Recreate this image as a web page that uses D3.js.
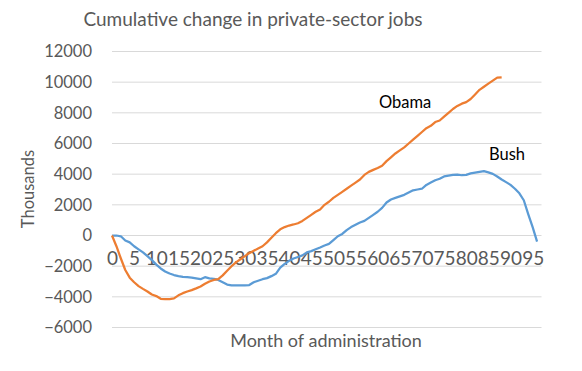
<!DOCTYPE html>
<html>
<head>
<meta charset="utf-8">
<script src="https://cdn.jsdelivr.net/npm/d3@7"></script>
<style>
  body { margin: 0; background: #fff; }
  text { font-family: Lato, "Open Sans", sans-serif; fill: #595959; }
</style>
</head>
<body>
<div id="chart"></div>
<script>
// monthly cumulative change, thousands
var bush = [
  0, 0, -50, -330, -450, -700, -900, -1100, -1350, -1600,
  -1900, -2150, -2350, -2480, -2580, -2650, -2700, -2720, -2750, -2800,
  -2850, -2720, -2800, -2830, -2900, -3050, -3200, -3250, -3250, -3250,
  -3250, -3230, -3050, -2950, -2850, -2780, -2650, -2500, -2100, -1850,
  -1650, -1500, -1400, -1300, -1100, -1020, -900, -780, -650, -550,
  -300, -50, 100, 350, 550, 700, 850, 950, 1150, 1350,
  1550, 1800, 2150, 2350, 2450, 2550, 2650, 2800, 2950, 3000,
  3050, 3300, 3450, 3600, 3700, 3850, 3900, 3950, 3970, 3930,
  3950, 4050, 4100, 4150, 4200, 4120, 4020, 3850, 3650, 3480,
  3300, 3050, 2750, 2300, 1400, 550, -400
];
var obama = [
  0, -700, -1500, -2250, -2750, -3050, -3300, -3480, -3650, -3850,
  -3950, -4130, -4150, -4150, -4100, -3900, -3760, -3650, -3560, -3450,
  -3330, -3150, -3000, -2900, -2850, -2600, -2300, -2000, -1750, -1550,
  -1350, -1150, -1000, -850, -700, -450, -150, 150, 400, 550,
  650, 720, 800, 950, 1150, 1350, 1550, 1700, 2000, 2200,
  2450, 2650, 2850, 3050, 3250, 3450, 3650, 3950, 4150, 4280,
  4400, 4550, 4850, 5100, 5350, 5550, 5750, 6000, 6250, 6500,
  6750, 7000, 7150, 7400, 7500, 7750, 8000, 8250, 8450, 8600,
  8700, 8900, 9200, 9500, 9700, 9900, 10100, 10300, 10320
];
var yTicks = [-6000, -4000, -2000, 0, 2000, 4000, 6000, 8000, 10000, 12000];
var xTicks = d3.range(0, 96, 5);

var W = 582, H = 371;
var plotLeft = 112, plotRight = 541.5, plotTop = 51.5, plotBottom = 327.5;

var svg = d3.select("#chart").append("svg")
  .attr("width", W).attr("height", H);

var x = d3.scaleLinear().domain([0, 97]).range([plotLeft, plotRight]);
var y = d3.scaleLinear().domain([-6000, 12000]).range([plotBottom, plotTop]);

// gridlines
svg.append("g").selectAll("line")
  .data(yTicks).enter().append("line")
  .attr("x1", plotLeft).attr("x2", plotRight)
  .attr("y1", d => y(d)).attr("y2", d => y(d))
  .attr("stroke", "#d9d9d9").attr("stroke-width", 1);

// y labels
var yAxis = d3.axisLeft(y).tickValues(yTicks).tickSize(0).tickPadding(0)
  .tickFormat(d3.format("d"));
var gy = svg.append("g").attr("transform", "translate(92,0)").call(yAxis);
gy.select(".domain").remove();
gy.selectAll("text").style("font-size", "16.5px").style("font-family", "Lato").attr("fill", "#595959");

// x labels (sit next to the zero line)
var xAxis = d3.axisBottom(x).tickValues(xTicks).tickSize(0).tickPadding(0);
var gx = svg.append("g").attr("transform", "translate(0,251)").call(xAxis);
gx.select(".domain").remove();
gx.selectAll("text").style("font-size", "19px").style("font-family", "Lato").attr("fill", "#595959");

var line = d3.line().x((d, i) => x(i)).y(d => y(d));

svg.append("path").datum(bush)
  .attr("fill", "none").attr("stroke", "#5b9bd5")
  .attr("stroke-width", 2.25).attr("stroke-linejoin", "round")
  .attr("d", line);

svg.append("path").datum(obama)
  .attr("fill", "none").attr("stroke", "#ed7d31")
  .attr("stroke-width", 2.25).attr("stroke-linejoin", "round")
  .attr("d", line);

// title and axis titles
svg.append("text").attr("x", 253).attr("y", 26)
  .attr("text-anchor", "middle").style("font-size", "19px")
  .text("Cumulative change in private-sector jobs");

svg.append("text")
  .attr("transform", "translate(34,189) rotate(-90)")
  .attr("text-anchor", "middle").style("font-size", "16.5px")
  .text("Thousands");

svg.append("text").attr("x", 326).attr("y", 347)
  .attr("text-anchor", "middle").style("font-size", "18px")
  .text("Month of administration");

// series labels
svg.append("text").attr("x", 379).attr("y", 108)
  .style("font-size", "16.5px").style("fill", "#000")
  .text("Obama");
svg.append("text").attr("x", 489).attr("y", 160)
  .style("font-size", "16.5px").style("fill", "#000")
  .text("Bush");
</script>
</body>
</html>
